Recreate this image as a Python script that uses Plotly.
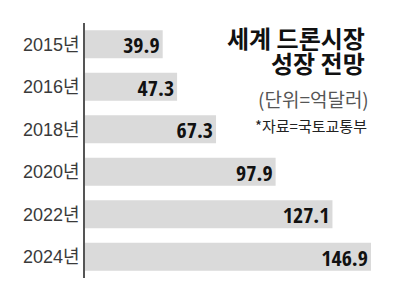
import plotly.graph_objects as go

years = ["2015년", "2016년", "2018년", "2020년", "2022년", "2024년"]
values = [39.9, 47.3, 67.3, 97.9, 127.1, 146.9]
labels = ["39.9", "47.3", "67.3", "97.9", "127.1", "146.9"]

title1 = "세계 드론시장"
title2 = "성장 전망"
unit = "(단위=억달러)"
source = "*자료=국토교통부"

W, H = 400, 296
L, R, T, B = 85, 0, 23, 18

cond = "Open Sans Condensed, Noto Sans CJK KR, sans-serif"
reg = "Liberation Sans, Noto Sans CJK KR, sans-serif"
kr = "Noto Sans CJK KR, sans-serif"

fig = go.Figure(go.Bar(
    y=years, x=values, orientation="h",
    marker=dict(color="#dadada", line=dict(width=0)),
    text=labels, textposition="inside", insidetextanchor="end",
    constraintext="none", textangle=0,
    textfont=dict(family=cond, size=22, color="#111111", weight="bold"),
    cliponaxis=False,
))

fig.update_layout(
    width=W, height=H,
    margin=dict(l=L, r=R, t=T, b=B),
    paper_bgcolor="white", plot_bgcolor="white",
    bargap=0.34, showlegend=False,
    xaxis=dict(range=[0, (W - L - R) / 1.947], visible=False, fixedrange=True),
    yaxis=dict(autorange="reversed", showline=True, linecolor="#555555", linewidth=1.5,
               showgrid=False, zeroline=False, ticks="",
               tickfont=dict(family=reg, size=18, color="#3a3a3a")),
)

def ann(text, x, y, size, color, bold=False):
    fig.add_annotation(text=f"<b>{text}</b>" if bold else text, xref="paper", yref="paper",
                       x=(x - L) / (W - L - R), y=1 - (y - T) / (H - T - B),
                       xanchor="right", yanchor="middle", showarrow=False,
                       font=dict(family=kr, size=size, color=color))

ann(title1, 367, 37, 24, "#111111", True)
ann(title2, 367, 62, 24, "#111111", True)
ann(unit, 371, 98, 19, "#555555")
ann(source, 369, 125, 15, "#222222")

fig.write_html("out.html")
